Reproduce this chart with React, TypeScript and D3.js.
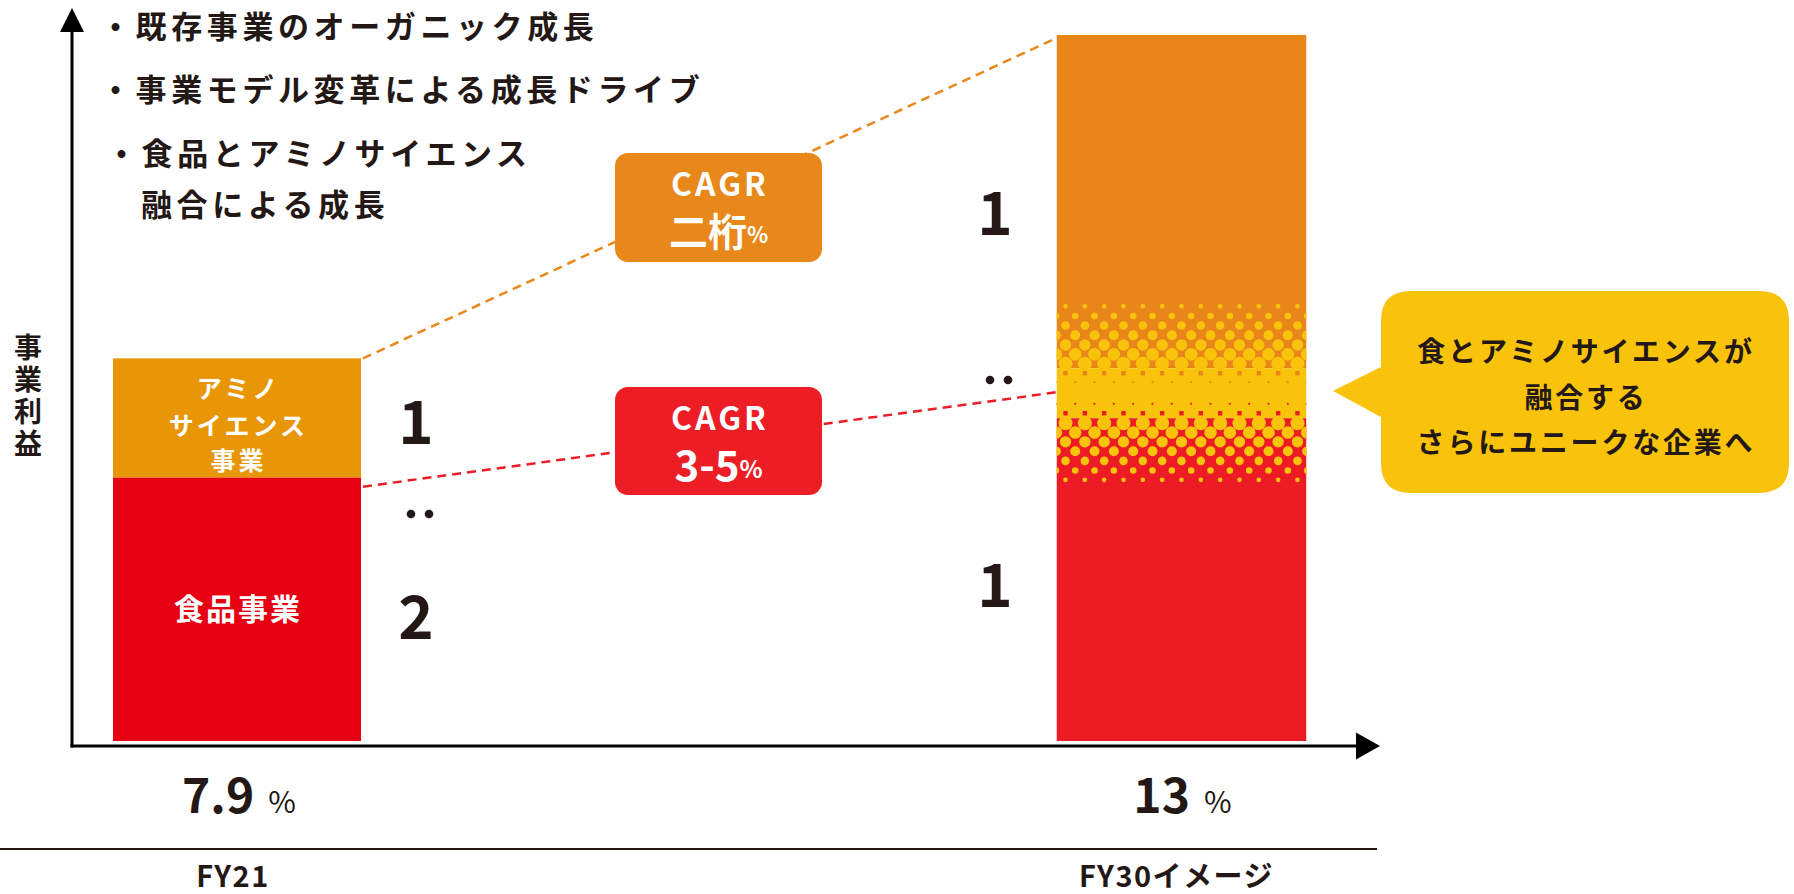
import React from "react";
import * as d3 from "d3";

// ---- data ----
const categories = ["FY21", "FY30イメージ"];
const foodValues = [37.3, 49.4]; // 食品事業 (relative operating profit)
const aminoValues = [16.9, 50.6]; // アミノサイエンス事業
const marginLabels = ["7.9", "13"];
const ratioFY21 = ["1", "2"];
const ratioFY30 = ["1", "1"];
const bulletLines = ["・既存事業のオーガニック成長", "・事業モデル変革による成長ドライブ", "・食品とアミノサイエンス", "融合による成長"];
const calloutLines = ["食とアミノサイエンスが", "融合する", "さらにユニークな企業へ"];
const yLabel = "事業利益";
const cagrTop = { head: "CAGR", main: "二桁", unit: "%" };
const cagrBottom = { head: "CAGR", main: "3-5", unit: "%" };

const W = 1794;
const H = 894;
const FONT = "'Noto Sans CJK JP', 'Noto Sans', sans-serif";
const DARK = "#231815";

const C = {
  amino21: "#E89506",
  food21: "#E60012",
  amino30: "#E8861A",
  food30: "#ED1C24",
  yellow: "#F9C30C",
  boxOrange: "#E8871A",
  boxRed: "#EC1D25",
};

export default function App() {
  const x = d3.scalePoint<string>().domain(categories).range([237, 1180.5]);
  const y = d3.scaleLinear().domain([0, 100]).range([741, 35]);
  const barW = 248;

  const bars = categories.map((c, i) => {
    const cx = x(c)!;
    const x0 = cx - barW / 2;
    const yFoodTop = y(foodValues[i]);
    const yTop = y(foodValues[i] + aminoValues[i]);
    return { c, cx, x0, yFoodTop, yTop, yBase: y(0) };
  });

  const b0 = bars[0];
  const b1 = bars[1];

  // halftone band in FY30 bar around the boundary
  const cy = b1.yFoodTop;
  const step = 19.33;
  type Row = { dy: number; kind: "dotY" | "sqO" | "dotO" | "dotR" | "sqR"; r: number; phase: number };
  const rows: Row[] = [
    { dy: -86, kind: "dotY", r: 2.3, phase: 0 },
    { dy: -76.3, kind: "dotY", r: 3.3, phase: 1 },
    { dy: -66.7, kind: "dotY", r: 4.3, phase: 0 },
    { dy: -57, kind: "dotY", r: 5.0, phase: 1 },
    { dy: -47.3, kind: "dotY", r: 5.7, phase: 0 },
    { dy: -38, kind: "dotY", r: 6.3, phase: 1 },
    { dy: -28.6, kind: "dotY", r: 7.0, phase: 0 },
    { dy: -19, kind: "sqO", r: 2.2, phase: 0 },
    { dy: -10, kind: "dotO", r: 1.1, phase: 1 },
    { dy: 11.6, kind: "dotR", r: 1.1, phase: 1 },
    { dy: 21, kind: "sqR", r: 2.2, phase: 0 },
    { dy: 31, kind: "dotY", r: 7.0, phase: 0 },
    { dy: 40.3, kind: "dotY", r: 6.3, phase: 1 },
    { dy: 49.6, kind: "dotY", r: 5.7, phase: 0 },
    { dy: 59, kind: "dotY", r: 5.0, phase: 1 },
    { dy: 68.6, kind: "dotY", r: 4.3, phase: 0 },
    { dy: 78.3, kind: "dotY", r: 3.3, phase: 1 },
    { dy: 87.6, kind: "dotY", r: 2.3, phase: 0 },
  ];
  const dots: React.ReactNode[] = [];
  rows.forEach((row, ri) => {
    const startX = b1.x0 + (row.phase === 0 ? 9 : 18.7) - step;
    for (let j = 0; j < 15; j++) {
      const px = startX + j * step;
      const py = cy + row.dy;
      const key = `${ri}-${j}`;
      if (row.kind === "dotY") dots.push(<circle key={key} cx={px} cy={py} r={row.r} fill={C.yellow} />);
      else if (row.kind === "dotO") dots.push(<circle key={key} cx={px} cy={py} r={row.r} fill={C.amino30} />);
      else if (row.kind === "dotR") dots.push(<circle key={key} cx={px} cy={py} r={row.r} fill={C.food30} />);
      else if (row.kind === "sqO") dots.push(<rect key={key} x={px - row.r} y={py - row.r} width={row.r * 2} height={row.r * 2} fill={C.amino30} />);
      else dots.push(<rect key={key} x={px - row.r} y={py - row.r} width={row.r * 2} height={row.r * 2} fill={C.food30} />);
    }
  });

  const axisX = 72;
  const axisY = 746;

  const ratioDots = (cx: number, cyy: number) => (
    <g>
      <circle cx={cx - 9} cy={cyy} r={4.3} fill={DARK} />
      <circle cx={cx + 9} cy={cyy} r={4.3} fill={DARK} />
    </g>
  );

  const boxX = 615;
  const boxW = 207;

  return (
    <svg width={W} height={H} style={{ position: "absolute", left: 0, top: 0, background: "#fff" }} fontFamily={FONT}>
      <defs>
        <clipPath id="bar30clip">
          <rect x={b1.x0} y={b1.yTop} width={barW + 2} height={b1.yBase - b1.yTop} />
        </clipPath>
      </defs>

      {/* dashed connector lines */}
      <line x1={b0.x0 + barW + 2} y1={b0.yTop} x2={b1.x0} y2={b1.yTop + 3} stroke={C.boxOrange} strokeWidth={2.5} strokeDasharray="9 6" />
      <line x1={b0.x0 + barW + 2} y1={b0.yFoodTop + 9} x2={b1.x0} y2={b1.yFoodTop} stroke={C.boxRed} strokeWidth={2.5} strokeDasharray="9 6" />

      {/* FY21 bar */}
      <rect x={b0.x0} y={b0.yTop} width={barW} height={b0.yFoodTop - b0.yTop} fill={C.amino21} />
      <rect x={b0.x0} y={b0.yFoodTop} width={barW} height={b0.yBase - b0.yFoodTop} fill={C.food21} />

      {/* FY30 bar */}
      <g clipPath="url(#bar30clip)">
        <rect x={b1.x0} y={b1.yTop} width={barW + 2} height={cy - 24 - b1.yTop} fill={C.amino30} />
        <rect x={b1.x0} y={cy - 24} width={barW + 2} height={50} fill={C.yellow} />
        <rect x={b1.x0} y={cy + 26} width={barW + 2} height={b1.yBase - cy - 26} fill={C.food30} />
        {dots}
      </g>

      {/* axes */}
      <line x1={axisX} y1={30} x2={axisX} y2={axisY + 1.5} stroke="#000" strokeWidth={3} />
      <path d={`M${axisX},8 L${axisX + 12},32 L${axisX - 12},32 Z`} fill="#000" />
      <line x1={axisX - 1.5} y1={axisY} x2={1360} y2={axisY} stroke="#000" strokeWidth={3} />
      <path d={`M1380,${axisY} L1356,${axisY - 13.5} L1356,${axisY + 13.5} Z`} fill="#000" />

      {/* y label (vertical) */}
      <text
        x={28}
        y={333}
        fontSize={28}
        fontWeight={700}
        letterSpacing={4}
        fill={DARK}
        style={{ writingMode: "vertical-rl" } as React.CSSProperties}
      >
        {yLabel}
      </text>

      {/* bullet lines */}
      {bulletLines.map((t, i) => (
        <text
          key={t}
          x={[100, 100, 106, 141][i]}
          y={[24, 87, 151, 202][i]}
          fontSize={31}
          fontWeight={700}
          letterSpacing={4.6}
          fill={DARK}
          dominantBaseline="central"
        >
          {t}
        </text>
      ))}

      {/* FY21 bar labels */}
      {["アミノ", "サイエンス", "事業"].map((t, i) => (
        <text key={t} x={b0.cx + 1.5} y={[387, 424, 459][i]} fontSize={25} fontWeight={700} letterSpacing={3} fill="#fff" textAnchor="middle" dominantBaseline="central">
          {t}
        </text>
      ))}
      <text x={b0.cx + 1} y={607} fontSize={30} fontWeight={700} letterSpacing={2} fill="#fff" textAnchor="middle" dominantBaseline="central">
        食品事業
      </text>

      {/* ratio numbers */}
      <text x={416} y={417} fontSize={60} fontWeight={700} fill={DARK} textAnchor="middle" dominantBaseline="central">{ratioFY21[0]}</text>
      {ratioDots(420, 514)}
      <text x={416} y={612} fontSize={60} fontWeight={700} fill={DARK} textAnchor="middle" dominantBaseline="central">{ratioFY21[1]}</text>

      <text x={995} y={208} fontSize={60} fontWeight={700} fill={DARK} textAnchor="middle" dominantBaseline="central">{ratioFY30[0]}</text>
      {ratioDots(999, 380)}
      <text x={995} y={580} fontSize={60} fontWeight={700} fill={DARK} textAnchor="middle" dominantBaseline="central">{ratioFY30[1]}</text>

      {/* CAGR boxes */}
      <rect x={boxX} y={153} width={boxW} height={109} rx={13} fill={C.boxOrange} />
      <text x={boxX + boxW / 2 + 1.5} y={182} fontSize={32} fontWeight={700} letterSpacing={3} fill="#fff" textAnchor="middle" dominantBaseline="central">{cagrTop.head}</text>
      <text x={boxX + boxW / 2} y={229} fill="#fff" textAnchor="middle" dominantBaseline="central" fontWeight={700}>
        <tspan fontSize={39}>{cagrTop.main}</tspan>
        <tspan fontSize={22} dy={4}>{cagrTop.unit}</tspan>
      </text>

      <rect x={boxX} y={387} width={boxW} height={108} rx={13} fill={C.boxRed} />
      <text x={boxX + boxW / 2 + 1.5} y={416} fontSize={32} fontWeight={700} letterSpacing={3} fill="#fff" textAnchor="middle" dominantBaseline="central">{cagrBottom.head}</text>
      <text x={boxX + boxW / 2} y={462} fill="#fff" textAnchor="middle" dominantBaseline="central" fontWeight={700}>
        <tspan fontSize={42}>{cagrBottom.main}</tspan>
        <tspan fontSize={24} dy={5}>{cagrBottom.unit}</tspan>
      </text>

      {/* callout */}
      <path
        d={`M1411,291 H1759 Q1789,291 1789,321 V463 Q1789,493 1759,493 H1411 Q1381,493 1381,463 V417 L1333,391 L1381,367 V321 Q1381,291 1411,291 Z`}
        fill={C.yellow}
      />
      {calloutLines.map((t, i) => (
        <text key={t} x={1586} y={[350, 396, 441][i]} fontSize={28} fontWeight={700} letterSpacing={2.8} fill={DARK} textAnchor="middle" dominantBaseline="central">
          {t}
        </text>
      ))}

      {/* margin labels */}
      {bars.map((b, i) => (
        <text key={b.c + "m"} x={b.cx + 2} y={813} textAnchor="middle" fill={DARK}>
          <tspan fontSize={48} fontWeight={700}>{marginLabels[i]}</tspan>
          <tspan fontSize={30} fontWeight={400} dx={14}>%</tspan>
        </text>
      ))}

      {/* separator */}
      <line x1={0} y1={849} x2={1377} y2={849} stroke={DARK} strokeWidth={2} />

      {/* category labels */}
      {bars.map((b) => (
        <text key={b.c} x={b.cx - 4} y={887} fontSize={29} fontWeight={700} letterSpacing={1.5} fill={DARK} textAnchor="middle">
          {b.c}
        </text>
      ))}
    </svg>
  );
}
